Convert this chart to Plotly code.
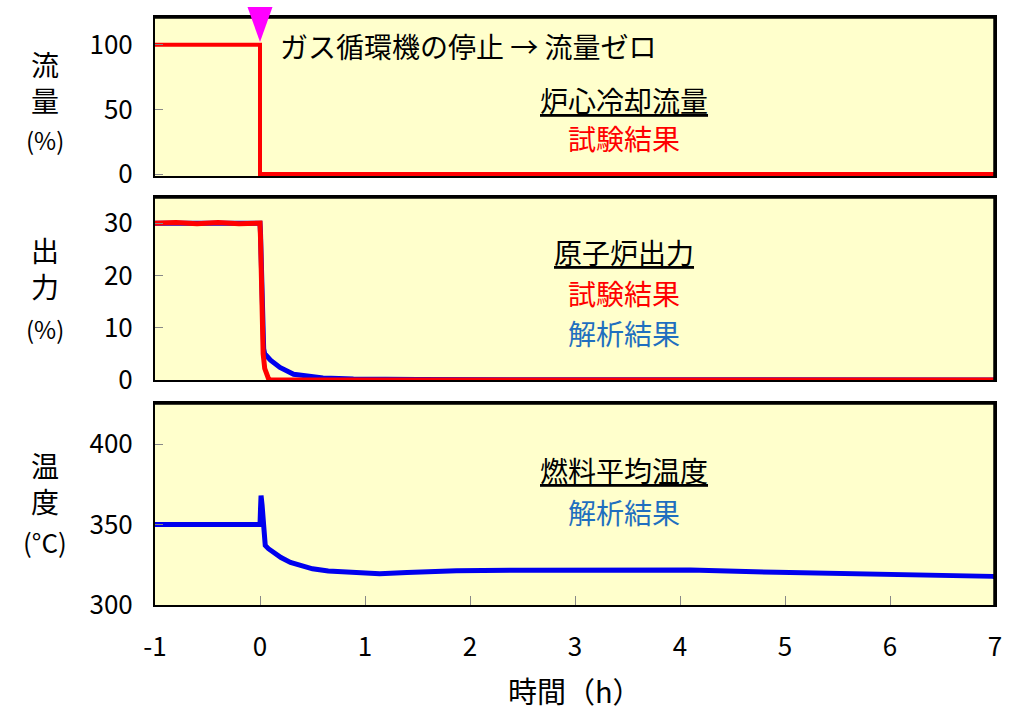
import plotly.graph_objects as go

# ---------------- data ----------------
stop_time = 0.0

flow_t = [-1, 0, 0, 7]
flow_exp = [100, 100, 0, 0]

power_t_exp = [-1, -0.8, -0.6, -0.4, -0.2, 0, 0.005, 0.01, 0.02, 0.03, 0.045, 0.06, 0.08, 0.1, 7]
power_exp = [30, 30.1, 29.9, 30.1, 29.9, 30, 27, 20, 10, 5, 2.2, 1.0, 0.3, 0, 0]

power_t_ana = [-1, -0.5, 0, 0.005, 0.02, 0.035, 0.05, 0.064, 0.1, 0.19, 0.32, 0.45, 0.6, 0.75, 0.89, 1.5, 3, 7]
power_ana = [30, 30, 30, 28, 15, 6, 4.5, 4.6, 3.8, 2.4, 1.1, 0.7, 0.4, 0.3, 0.2, 0.08, 0.03, 0]

temp_t = [-1, -0.5, 0, 0.005, 0.01, 0.02, 0.03, 0.05, 0.08, 0.125, 0.2, 0.29, 0.4, 0.5,
          0.65, 0.83, 1.0, 1.14, 1.4, 1.87, 2.5, 3.0, 4.1, 4.92, 5.62, 6.5, 6.98, 7.0]
temp_ana = [350, 350, 350, 360, 368, 362, 350, 337, 335, 333, 329.5, 326.5, 324, 322.5,
            321.2, 320.3, 319.8, 319.5, 320.2, 321.3, 321.6, 321.7, 321.7, 320.3, 319.5, 319, 317.8, 317.5]

x_ticks = [-1, 0, 1, 2, 3, 4, 5, 6, 7]
x_tick_labels = ["-1", "0", "1", "2", "3", "4", "5", "6", "7"]
flow_ticks = [0, 50, 100]
power_ticks = [0, 10, 20, 30]
temp_ticks = [300, 350, 400]

# ---------------- style ----------------
RED = "#ff0000"
BLUE = "#0000ee"
BLUE_TXT = "#1f6fbf"
BG = "#ffffcc"
FONT = "Noto Sans CJK JP"

W, H = 1026, 723
L, R, T, B = 155, 995, 17, 605   # plot area pixel box


def px(x):
    return (x - L) / (R - L)


def py(y):
    return (B - y) / (B - T)


fig = go.Figure()
fig.add_trace(go.Scatter(x=flow_t, y=flow_exp, mode="lines", line=dict(color=RED, width=4),
                         xaxis="x", yaxis="y", showlegend=False))
fig.add_trace(go.Scatter(x=power_t_ana, y=power_ana, mode="lines", line=dict(color=BLUE, width=5),
                         xaxis="x2", yaxis="y2", showlegend=False))
fig.add_trace(go.Scatter(x=power_t_exp, y=power_exp, mode="lines", line=dict(color=RED, width=5),
                         xaxis="x2", yaxis="y2", showlegend=False))
fig.add_trace(go.Scatter(x=temp_t, y=temp_ana, mode="lines", line=dict(color=BLUE, width=5),
                         xaxis="x3", yaxis="y3", showlegend=False))

axis_common = dict(showline=True, linecolor="black", linewidth=2, mirror=True,
                   showgrid=False, zeroline=False)
tickfont = dict(family=FONT, size=26, color="black")

xdom = [0, 1]
fig.update_layout(
    width=W, height=H,
    margin=dict(l=L, r=W - R, t=T, b=H - B),
    paper_bgcolor="white", plot_bgcolor=BG,
    font=dict(family=FONT, size=24, color="black"),
    xaxis=dict(domain=xdom, range=[-1, 7], anchor="y", showticklabels=False, ticks="", **axis_common),
    xaxis2=dict(domain=xdom, range=[-1, 7], anchor="y2", showticklabels=False, ticks="", **axis_common),
    xaxis3=dict(domain=xdom, range=[-1, 7], anchor="y3", tickvals=x_ticks, ticktext=x_tick_labels,
                ticks="inside", ticklen=9, tickcolor="#888888", tickwidth=1, tickfont=tickfont,
                ticklabelstandoff=18, **axis_common),
    yaxis=dict(domain=[py(176), 1.0], range=[-1.5, 121.5], anchor="x", tickvals=flow_ticks,
               ticks="inside", ticklen=8, tickcolor="#888888", tickwidth=1, tickfont=tickfont,
               ticklabelstandoff=15, **axis_common),
    yaxis2=dict(domain=[py(380), py(197)], range=[0, 35], anchor="x2", tickvals=power_ticks,
                ticks="inside", ticklen=8, tickcolor="#888888", tickwidth=1, tickfont=tickfont,
                ticklabelstandoff=15, **axis_common),
    yaxis3=dict(domain=[0, py(403)], range=[300, 425.6], anchor="x3", tickvals=temp_ticks,
                ticks="inside", ticklen=8, tickcolor="#888888", tickwidth=1, tickfont=tickfont,
                ticklabelstandoff=15, **axis_common),
)

# thicker top/right frame edges (shadowed border look)
for yd in ("y domain", "y2 domain", "y3 domain"):
    fig.add_shape(type="line", xref="x domain", yref=yd, x0=0, x1=1, y0=1, y1=1,
                  line=dict(color="black", width=3.5), layer="above")
    fig.add_shape(type="line", xref="x domain", yref=yd, x0=1, x1=1, y0=0, y1=1,
                  line=dict(color="black", width=3.5), layer="above")

# magenta triangle marking the circulator stop
fig.add_shape(type="path", xref="x", yref="paper", xsizemode="pixel", ysizemode="pixel",
              xanchor=stop_time, yanchor=1.0,
              path="M-12.5,10 L12.5,10 L0,-25 Z", fillcolor="#ff00ff", line=dict(width=0),
              layer="above")


def ann(text, x, y, size=28, color="black", xanchor="center"):
    fig.add_annotation(text=text, x=px(x), y=py(y), xref="paper", yref="paper",
                       showarrow=False, xanchor=xanchor, yanchor="middle",
                       font=dict(family=FONT, size=size, color=color))


# in-panel labels
ann("ガス循環機の停止 → 流量ゼロ", 278, 46, size=28, xanchor="left")
ann("<u>炉心冷却流量</u>", 624, 100)
ann("試験結果", 624, 138, color=RED)
ann("<u>原子炉出力</u>", 624, 252)
ann("試験結果", 624, 293, color=RED)
ann("解析結果", 624, 333, color=BLUE_TXT)
ann("<u>燃料平均温度</u>", 624, 470)
ann("解析結果", 624, 512, color=BLUE_TXT)

# y-axis titles (stacked)
ann("流<br>量", 45, 82)
ann("(%)", 45, 140, size=24)
ann("出<br>力", 45, 268)
ann("(%)", 45, 328, size=24)
ann("温<br>度", 45, 483)
ann("(°C)", 45, 541, size=26)

# x-axis title
ann("時間（h）", 575, 690, size=29)

fig.write_html("out.html")
